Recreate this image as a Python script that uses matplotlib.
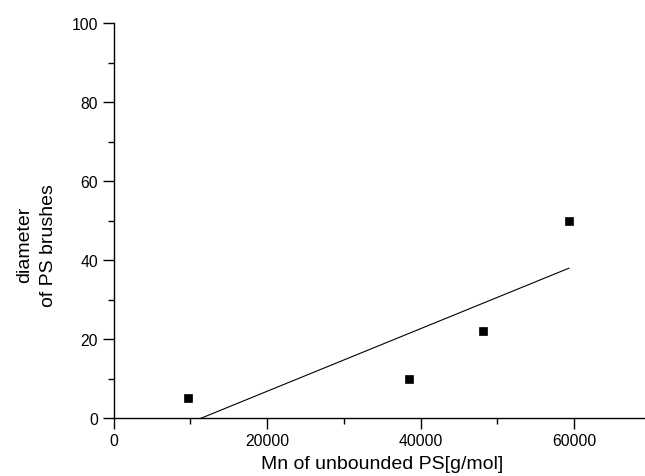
import matplotlib
matplotlib.use("Agg")
import matplotlib.pyplot as plt
from matplotlib.ticker import MultipleLocator
import numpy as np

plt.rcParams['font.family'] = ['Liberation Sans', 'DejaVu Sans']

# Mn of unbounded PS [g/mol] and brush diameter
mn = np.array([9730, 38440, 48170, 59320])
diameter = np.array([5, 10, 22, 50])

# linear fit, drawn over the data range (clipped at y = 0 by the axis)
slope, intercept = np.polyfit(mn, diameter, 1)
fit_x = np.array([mn.min(), mn.max()])
fit_y = slope * fit_x + intercept

fig = plt.figure(figsize=(6.45, 4.77), dpi=100)
ax = fig.add_axes([0.176, 0.1216, 0.833, 0.828])

ax.plot(mn, diameter, 's', color='black', markersize=5.8, markeredgewidth=0.5,
        linestyle='none')
ax.plot(fit_x, fit_y, color='black', linewidth=0.8)

ax.set_xlim(0, 70000)
ax.set_ylim(0, 100)
ax.xaxis.set_major_locator(MultipleLocator(20000))
ax.xaxis.set_minor_locator(MultipleLocator(10000))
ax.yaxis.set_major_locator(MultipleLocator(20))
ax.yaxis.set_minor_locator(MultipleLocator(10))

for side in ['top', 'right']:
    ax.spines[side].set_visible(False)
for side in ['left', 'bottom']:
    ax.spines[side].set_linewidth(1.0)

ax.tick_params(which='major', direction='out', length=8, width=1.0, labelsize=11.3, pad=3)
ax.tick_params(which='minor', direction='out', length=4.5, width=1.0)

ax.set_xlabel("Mn of unbounded PS[g/mol]", fontsize=14, labelpad=5)
ax.set_ylabel("diameter\nof PS brushes", fontsize=14, linespacing=1.5)
ax.yaxis.set_label_coords(-0.105, 0.44)

fig.savefig("out.png", dpi=100)
